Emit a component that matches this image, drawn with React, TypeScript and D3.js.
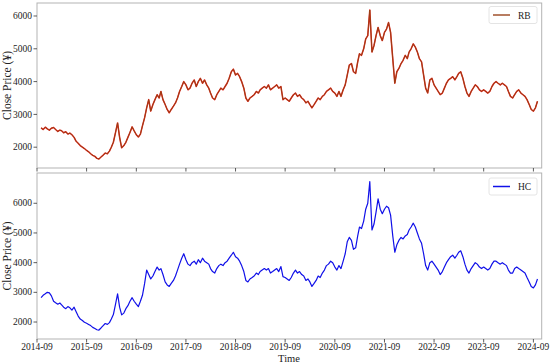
import * as d3 from "d3";

// half-monthly closes (1st and 16th), Oct 2014 .. Sep 2024, plus 2024-10-01
const rbClose = [
  // 2014-10 .. 2015-09
  2590, 2540, 2610, 2560, 2520, 2580, 2600, 2540, 2480, 2520, 2500, 2440,
  2470, 2400, 2430, 2380, 2300, 2180, 2120, 2050, 2000, 1960, 1900, 1860,
  // 2015-10 .. 2016-09
  1800, 1750, 1720, 1660, 1640, 1700, 1760, 1820, 1800, 1880, 2000, 2150,
  2450, 2740, 2300, 1980, 2050, 2150, 2300, 2450, 2620, 2500, 2380, 2310,
  // 2016-10 .. 2017-09
  2400, 2650, 2900, 3200, 3450, 3100, 3300, 3450, 3600, 3500, 3700, 3450,
  3300, 3150, 3050, 3150, 3250, 3350, 3500, 3700, 3850, 4000, 3900, 3750,
  // 2017-10 .. 2018-09
  3800, 3950, 4050, 3850, 4000, 4100, 3950, 4050, 3900, 3800, 3650, 3500,
  3450, 3600, 3700, 3800, 3750, 3850, 3950, 4100, 4300, 4380, 4200, 4250,
  // 2018-10 .. 2019-09
  4150, 4000, 3800, 3500, 3400, 3500, 3550, 3600, 3700, 3650, 3750, 3800,
  3850, 3800, 3900, 3750, 3800, 3850, 3900, 3800, 3850, 3450, 3500, 3450,
  // 2019-10 .. 2020-09
  3400, 3500, 3600, 3650, 3550, 3600, 3500, 3450, 3350, 3400, 3300, 3200,
  3300, 3400, 3500, 3450, 3550, 3600, 3700, 3750, 3800, 3700, 3650, 3550,
  // 2020-10 .. 2021-09
  3700, 3550, 3750, 3900, 4200, 4500, 4550, 4300, 4250, 4600, 4850, 4800,
  5000, 5300, 5400, 6180, 4900, 5100, 5400, 5650, 5400, 5250, 5500, 5600,
  // 2021-10 .. 2022-09
  5800, 5500, 4700, 3950, 4300, 4400, 4550, 4650, 4800, 4700, 4900, 5000,
  5150, 5050, 4900, 4700, 4600, 4200, 3800, 3650, 4050, 4100, 3900, 3800,
  // 2022-10 .. 2023-09
  3700, 3600, 3650, 3800, 3950, 4050, 4100, 4150, 4050, 4150, 4250, 4300,
  4100, 3850, 3650, 3550, 3700, 3800, 3900, 3850, 3750, 3700, 3750, 3700,
  // 2023-10 .. 2024-09
  3650, 3700, 3850, 3950, 4000, 3950, 3900, 3950, 3900, 3850, 3700, 3550,
  3500, 3600, 3700, 3750, 3650, 3600, 3550, 3450, 3300, 3150, 3100, 3200,
  3400,
];

const hcClose = [
  // 2014-10 .. 2015-09
  2820, 2900, 2950, 3000, 2980, 2880, 2700, 2650, 2600, 2640, 2580, 2500,
  2450, 2520, 2480, 2400, 2500, 2350, 2200, 2100, 2050, 1990, 1960, 1920,
  // 2015-10 .. 2016-09
  1880, 1820, 1780, 1740, 1730, 1800, 1880, 1950, 1920, 1980, 2100, 2250,
  2600, 2950, 2500, 2240, 2300, 2450, 2550, 2700, 2820, 2700, 2600, 2520,
  // 2016-10 .. 2017-09
  2700, 2900, 3300, 3750, 3600, 3450, 3550, 3700, 3850, 3750, 3800, 3600,
  3350, 3250, 3200, 3300, 3400, 3550, 3750, 3950, 4150, 4300, 4100, 3950,
  // 2017-10 .. 2018-09
  3900, 4000, 4050, 3950, 4100, 4000, 4150, 4050, 4000, 3950, 3800, 3700,
  3650, 3800, 3900, 3950, 3900, 4000, 4050, 4150, 4250, 4350, 4200, 4150,
  // 2018-10 .. 2019-09
  4050, 3900, 3700, 3400, 3350, 3450, 3500, 3550, 3650, 3600, 3700, 3750,
  3800, 3750, 3800, 3650, 3700, 3750, 3800, 3700, 3870, 3530, 3500, 3450,
  // 2019-10 .. 2020-09
  3400, 3500, 3650, 3750, 3650, 3700, 3600, 3550, 3400, 3450, 3350, 3200,
  3300, 3400, 3550, 3500, 3650, 3750, 3900, 3950, 4050, 4000, 3850, 3750,
  // 2020-10 .. 2021-09
  3900, 3800, 4050, 4300, 4700, 4850, 4750, 4450, 4500, 4900, 5200, 5150,
  5400, 5800, 6000, 6730, 5100, 5300, 5700, 6150, 5800, 5650, 5800, 5900,
  // 2021-10 .. 2022-09
  5850, 5600, 4900, 4350, 4600, 4750, 4850, 4800, 4900, 4950, 5100, 5200,
  5330, 5200, 5000, 4800, 4650, 4300, 3900, 3750, 4000, 4050, 3950, 3850,
  // 2022-10 .. 2023-09
  3750, 3600, 3700, 3850, 4000, 4100, 4200, 4250, 4150, 4250, 4350, 4400,
  4200, 3950, 3750, 3650, 3800, 3900, 4000, 3950, 3850, 3800, 3850, 3800,
  // 2023-10 .. 2024-09
  3750, 3800, 3950, 4050, 4050, 4000, 3950, 4000, 3950, 3900, 3750, 3650,
  3650, 3800, 3850, 3800, 3750, 3700, 3650, 3500, 3350, 3200, 3150, 3250,
  3450,
];

const yTicks = [2000, 3000, 4000, 5000, 6000];
const xTickLabels = [
  "2014-09", "2015-09", "2016-09", "2017-09", "2018-09", "2019-09",
  "2020-09", "2021-09", "2022-09", "2023-09", "2024-09",
];

const parseMonth = d3.timeParse("%Y-%m");
const firstDay = new Date(2014, 9, 1);
const dates = rbClose.map((_, i) =>
  d3.timeDay.offset(d3.timeMonth.offset(firstDay, Math.floor(i / 2)), (i % 2) * 15)
);

const W = 550;
const H = 364;
const left = 37;
const right = 541.7;
const font = "'Liberation Serif', 'DejaVu Serif', serif";
const frameColor = "#b3b3b3";

const x = d3
  .scaleTime()
  .domain([new Date(2014, 8, 1), new Date(2024, 10, 1)])
  .range([left, right]);

type PanelProps = {
  values: number[];
  top: number;
  bottom: number;
  domain: [number, number];
  label: string;
  color: string;
  under?: string;
  showX: boolean;
  legendTop: number;
};

const Panel = ({ values, top, bottom, domain, label, color, under, showX, legendTop }: PanelProps) => {
  const y = d3.scaleLinear().domain(domain).range([bottom, top]);
  const line = d3
    .line<number>()
    .x((_, i) => x(dates[i]))
    .y((d) => y(d));
  const path = line(values) || "";
  const midY = (top + bottom) / 2;
  return (
    <g>
      {under && <path d={path} fill="none" stroke={under} strokeWidth={1.5} strokeLinejoin="round" />}
      <path d={path} fill="none" stroke={color} strokeWidth={under ? 0.8 : 1.2} strokeLinejoin="round" />
      <rect x={left} y={top} width={right - left} height={bottom - top} fill="none" stroke={frameColor} strokeWidth={1} />
      {yTicks.map((t) => (
        <g key={t} transform={`translate(${left},${y(t)})`}>
          <line x1={-3.5} x2={0} stroke="#333" strokeWidth={0.8} />
          <text x={-5} dy="0.33em" textAnchor="end" fontSize={9.5} fontFamily={font} fill="#222">
            {t}
          </text>
        </g>
      ))}
      {xTickLabels.map((s) => {
        const d = parseMonth(s) as Date;
        return (
          <g key={s} transform={`translate(${x(d)},${bottom})`}>
            <line y1={0} y2={3.5} stroke="#333" strokeWidth={0.8} />
            {showX && (
              <text y={11} textAnchor="middle" fontSize={9.5} fontFamily={font} fill="#222">
                {s}
              </text>
            )}
          </g>
        );
      })}
      <text
        transform={`translate(11,${midY}) rotate(-90)`}
        textAnchor="middle"
        fontSize={11.5}
        fontFamily={font}
        fill="#222"
      >
        Close Price (¥)
      </text>
      <g transform={`translate(489,${legendTop})`}>
        <rect width={48} height={17} rx={2} fill="white" stroke="#ddd" strokeWidth={0.8} />
        <line x1={4} x2={21} y1={8.5} y2={8.5} stroke={under ? "#a0522d" : color} strokeWidth={1.5} />
        <text x={29} y={12} fontSize={9.5} fontFamily={font} fill="#222">
          {label}
        </text>
      </g>
    </g>
  );
};

export default function App() {
  return (
    <svg width={W} height={H} style={{ display: "block", position: "absolute", left: 0, top: 0 }}>
      <rect width={W} height={H} fill="white" />
      <Panel
        values={rbClose}
        top={3}
        bottom={168}
        domain={[1366, 6396]}
        label="RB"
        color="#8b4513"
        under="#e0201a"
        showX={false}
        legendTop={6.5}
      />
      <Panel
        values={hcClose}
        top={173}
        bottom={339}
        domain={[1428, 7020]}
        label="HC"
        color="#1010e8"
        showX={true}
        legendTop={178}
      />
      <text x={289} y={362} textAnchor="middle" fontSize={10.5} fontFamily={font} fill="#222">
        Time
      </text>
    </svg>
  );
}
